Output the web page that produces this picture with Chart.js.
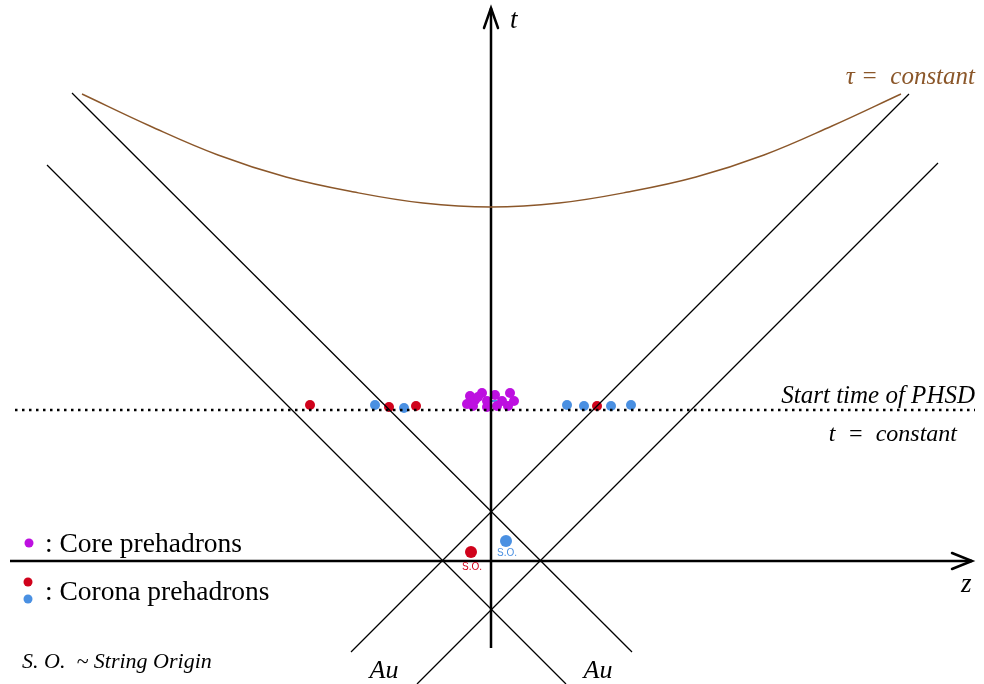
<!DOCTYPE html>
<html>
<head>
<meta charset="utf-8">
<script src="https://cdn.jsdelivr.net/npm/chart.js@4/dist/chart.umd.min.js"></script>
<style>
  html, body { margin: 0; padding: 0; background: #ffffff; }
  #wrap { width: 984px; height: 684px; }
</style>
</head>
<body>
<div id="wrap"><canvas id="chart" width="984" height="684"></canvas></div>
<script>
// light-cone lines (z, t)
const coneA = [{x: -419, y: 468}, {x: 141, y: -91}];
const coneB = [{x: -444, y: 396}, {x: 75, y: -123}];
const coneC = [{x: 418, y: 467}, {x: -140, y: -91}];
const coneD = [{x: 447, y: 398}, {x: -74, y: -123}];

// axes
const zAxis = [{x: -481, y: 0}, {x: 481, y: 0}];
const tAxis = [{x: 0, y: -87}, {x: 0, y: 553}];

// start time of PHSD (t = constant)
const startLine = [{x: -476, y: 151}, {x: 484, y: 151}];

// tau = constant
const tauCurve = [
    {x: -409, y: 467}, {x: -341, y: 435}, {x: -273, y: 406}, {x: -205, y: 384},
    {x: -137, y: 369}, {x: -68, y: 358}, {x: 0, y: 354}, {x: 68, y: 358},
    {x: 137, y: 369}, {x: 205, y: 384}, {x: 273, y: 406}, {x: 341, y: 435},
    {x: 410, y: 467}
];

// prehadrons
const corePoints = [
    {x: -21, y: 165}, {x: -9, y: 168}, {x: 4, y: 166}, {x: 19, y: 168},
    {x: -24, y: 157}, {x: -16, y: 161}, {x: -4, y: 160}, {x: 11, y: 160},
    {x: 23, y: 160}, {x: -18, y: 155}, {x: -4, y: 154}, {x: 6, y: 155},
    {x: 17, y: 155}, {x: -13, y: 164}
];
const coronaRed = [{x: -181, y: 156}, {x: -102, y: 154}, {x: -75, y: 155}, {x: 106, y: 155}];
const coronaBlue = [{x: -116, y: 156}, {x: -87, y: 153}, {x: 76, y: 156}, {x: 93, y: 155}, {x: 120, y: 155}, {x: 140, y: 156}];
const centerMark = [{x: -3, y: 160}, {x: 6, y: 160}];

// string origins
const originRed = [{x: -20, y: 9}];
const originBlue = [{x: 15, y: 20}];

const RED = '#d0021b';
const BLUE = '#4a90e2';
const MAGENTA = '#bd10e0';
const BROWN = '#8b572a';

function lineSet(data, color, width, extra) {
    return Object.assign({
        type: 'line',
        data: data,
        borderColor: color,
        borderWidth: width,
        pointRadius: 0,
        fill: false,
        clip: false,
        tension: 0
    }, extra || {});
}

function dotSet(data, color, radius) {
    return {
        type: 'scatter',
        data: data,
        backgroundColor: color,
        borderColor: color,
        borderWidth: 0,
        pointRadius: radius,
        clip: false
    };
}

// arrows, legend and labels
const annotations = {
    id: 'annotations',
    afterDatasetsDraw(chart) {
        const ctx = chart.ctx;
        const xs = chart.scales.x;
        const ys = chart.scales.y;
        const px = v => xs.getPixelForValue(v);
        const py = v => ys.getPixelForValue(v);

        ctx.save();
        // arrow heads
        ctx.strokeStyle = '#000';
        ctx.lineWidth = 2.5;
        ctx.lineCap = 'round';
        ctx.lineJoin = 'miter';
        const zx = px(zAxis[1].x), zy = py(0);
        ctx.beginPath();
        ctx.moveTo(zx - 20, zy - 8);
        ctx.lineTo(zx, zy);
        ctx.lineTo(zx - 20, zy + 8);
        ctx.stroke();
        const tx = px(0), ty = py(tAxis[1].y);
        ctx.beginPath();
        ctx.moveTo(tx - 7, ty + 20);
        ctx.lineTo(tx, ty);
        ctx.lineTo(tx + 7, ty + 20);
        ctx.stroke();

        // axis names
        ctx.fillStyle = '#000';
        ctx.font = 'italic 27px "Liberation Serif"';
        ctx.textBaseline = 'alphabetic';
        ctx.textAlign = 'left';
        ctx.fillText('t', 510, 28);
        ctx.fillText('z', 961, 592);

        // right side labels
        ctx.textAlign = 'right';
        ctx.font = 'italic 25px "Liberation Serif"';
        ctx.fillText('Start time of PHSD', 975, 403);
        ctx.font = 'italic 24px "Liberation Serif"';
        ctx.fillText('t  =  constant', 957, 441);
        ctx.fillStyle = BROWN;
        ctx.font = 'italic 25px "Liberation Serif"';
        ctx.fillText('\u03c4 =  constant', 975, 84);

        // Au labels
        ctx.fillStyle = '#000';
        ctx.textAlign = 'center';
        ctx.font = 'italic 26px "Liberation Serif"';
        ctx.fillText('Au', 384, 678);
        ctx.fillText('Au', 598, 678);

        // S.O. labels
        ctx.font = '10px "Liberation Sans"';
        ctx.fillStyle = RED;
        ctx.fillText('S.O.', px(originRed[0].x) + 1, py(originRed[0].y) + 18);
        ctx.fillStyle = BLUE;
        ctx.fillText('S.O.', px(originBlue[0].x) + 1, py(originBlue[0].y) + 15);

        // legend
        ctx.textAlign = 'left';
        const dot = (x, y, c) => {
            ctx.fillStyle = c;
            ctx.beginPath();
            ctx.arc(x, y, 4.5, 0, Math.PI * 2);
            ctx.fill();
        };
        dot(29, 543, MAGENTA);
        dot(28, 582, RED);
        dot(28, 599, BLUE);
        ctx.fillStyle = '#000';
        ctx.font = '27.5px "Liberation Serif"';
        ctx.fillText(': Core prehadrons', 45, 552);
        ctx.fillText(': Corona prehadrons', 45, 600);
        ctx.font = 'italic 22px "Liberation Serif"';
        ctx.fillText('S. O.  ~ String Origin', 22, 668);
        ctx.restore();
    }
};

new Chart(document.getElementById('chart'), {
    type: 'scatter',
    data: {
        datasets: [
            lineSet(coneA, '#000', 1.3),
            lineSet(coneB, '#000', 1.3),
            lineSet(coneC, '#000', 1.3),
            lineSet(coneD, '#000', 1.3),
            lineSet(tauCurve, BROWN, 1.4, {tension: 0.4}),
            lineSet(startLine, '#000', 2.5, {borderDash: [2.5, 4.5]}),
            lineSet(zAxis, '#000', 2.5),
            lineSet(tAxis, '#000', 2.5),
            dotSet(corePoints, MAGENTA, 5),
            lineSet(centerMark, BLUE, 2),
            dotSet(coronaRed, RED, 5),
            dotSet(coronaBlue, BLUE, 5),
            dotSet(originRed, RED, 6),
            dotSet(originBlue, BLUE, 6)
        ]
    },
    options: {
        responsive: false,
        animation: false,
        layout: {padding: 0, autoPadding: false},
        scales: {
            x: {type: 'linear', min: -491, max: 493, display: false},
            y: {type: 'linear', min: -123, max: 561, display: false}
        },
        plugins: {
            legend: {display: false},
            tooltip: {enabled: false}
        }
    },
    plugins: [annotations]
});
</script>
</body>
</html>
